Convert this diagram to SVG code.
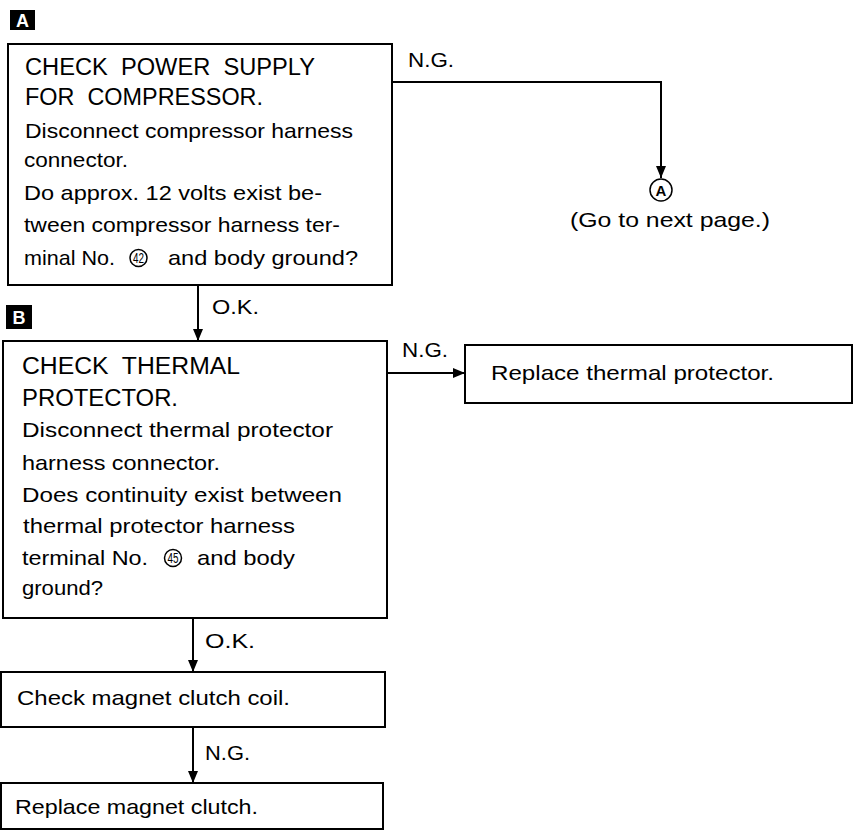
<svg xmlns="http://www.w3.org/2000/svg" width="858" height="831" viewBox="0 0 858 831">
<style>
  .box { fill: #fff; stroke: #000; stroke-width: 2; }
  .t { font-family: "Liberation Sans", Arial, sans-serif; font-size: 21px; fill: #000; }
  .h { font-family: "Liberation Sans", Arial, sans-serif; font-size: 23px; fill: #000; white-space: pre; }
  .lbl { font-family: "Liberation Sans", Arial, sans-serif; font-size: 18px; font-weight: bold; fill: #fff; }
  .num { font-family: "Liberation Sans", Arial, sans-serif; font-size: 14px; fill: #000; }
  .ring { fill: none; stroke: #000; stroke-width: 1.5; }
  .line { fill: none; stroke: #000; stroke-width: 2; }
</style>
<defs>
  <marker id="arr" viewBox="0 0 12 10" refX="12" refY="5" markerWidth="12" markerHeight="10" markerUnits="userSpaceOnUse" orient="auto">
    <path d="M0,0 L12,5 L0,10 Z" fill="#000"/>
  </marker>
</defs>
<rect width="858" height="831" fill="#fff"/>

<g id="label-A">
  <rect x="10" y="10" width="25" height="20" fill="#000"/>
  <text class="lbl" x="22.5" y="27" text-anchor="middle">A</text>
</g>

<g id="node-power">
  <rect class="box" x="8" y="44" width="384" height="241"/>
  <text class="h" xml:space="preserve" x="25" y="75" textLength="290" lengthAdjust="spacingAndGlyphs">CHECK  POWER  SUPPLY</text>
  <text class="h" xml:space="preserve" x="25" y="105" textLength="238" lengthAdjust="spacingAndGlyphs">FOR  COMPRESSOR.</text>
  <text class="t" x="25" y="138" textLength="328" lengthAdjust="spacingAndGlyphs">Disconnect compressor harness</text>
  <text class="t" x="24" y="167" textLength="104" lengthAdjust="spacingAndGlyphs">connector.</text>
  <text class="t" x="24" y="200" textLength="298" lengthAdjust="spacingAndGlyphs">Do approx. 12 volts exist be-</text>
  <text class="t" x="24" y="232" textLength="316" lengthAdjust="spacingAndGlyphs">tween compressor harness ter-</text>
  <text class="t" x="24" y="265" textLength="91" lengthAdjust="spacingAndGlyphs">minal No.</text>
  <circle class="ring" cx="138.5" cy="258" r="8.5"/>
  <text class="num" x="133" y="263" textLength="11" lengthAdjust="spacingAndGlyphs">42</text>
  <text class="t" x="168" y="265" textLength="190" lengthAdjust="spacingAndGlyphs">and body ground?</text>
</g>

<g id="label-B">
  <rect x="6" y="305" width="26" height="24" fill="#000"/>
  <text class="lbl" x="19" y="324" text-anchor="middle">B</text>
</g>

<g id="node-thermal">
  <rect class="box" x="3" y="341" width="384" height="277"/>
  <text class="h" xml:space="preserve" x="22" y="374" textLength="218" lengthAdjust="spacingAndGlyphs">CHECK  THERMAL</text>
  <text class="h" x="22" y="406" textLength="156" lengthAdjust="spacingAndGlyphs">PROTECTOR.</text>
  <text class="t" x="22" y="437" textLength="311" lengthAdjust="spacingAndGlyphs">Disconnect thermal protector</text>
  <text class="t" x="22" y="470" textLength="198" lengthAdjust="spacingAndGlyphs">harness connector.</text>
  <text class="t" x="22" y="502" textLength="320" lengthAdjust="spacingAndGlyphs">Does continuity exist between</text>
  <text class="t" x="23" y="533" textLength="272" lengthAdjust="spacingAndGlyphs">thermal protector harness</text>
  <text class="t" x="22" y="565" textLength="126" lengthAdjust="spacingAndGlyphs">terminal No.</text>
  <circle class="ring" cx="173" cy="558" r="8.5"/>
  <text class="num" x="167.5" y="563" textLength="11" lengthAdjust="spacingAndGlyphs">45</text>
  <text class="t" x="197" y="565" textLength="98" lengthAdjust="spacingAndGlyphs">and body</text>
  <text class="t" x="22" y="595" textLength="81" lengthAdjust="spacingAndGlyphs">ground?</text>
</g>

<g id="node-replace-thermal">
  <rect class="box" x="465" y="345" width="387" height="58"/>
  <text class="t" x="491" y="380" textLength="283" lengthAdjust="spacingAndGlyphs">Replace thermal protector.</text>
</g>

<g id="node-next-page">
  <circle cx="661" cy="190" r="11" fill="#fff" stroke="#000" stroke-width="1.5"/>
  <text x="661" y="195.5" text-anchor="middle" font-family="Liberation Sans, Arial, sans-serif" font-size="15" font-weight="bold">A</text>
  <text class="t" x="570" y="227" textLength="200" lengthAdjust="spacingAndGlyphs">(Go to next page.)</text>
</g>

<g id="node-clutch-coil">
  <rect class="box" x="1" y="672" width="384" height="55"/>
  <text class="t" x="17" y="705" textLength="273" lengthAdjust="spacingAndGlyphs">Check magnet clutch coil.</text>
</g>

<g id="node-replace-clutch">
  <rect class="box" x="1" y="783" width="382" height="46"/>
  <text class="t" x="15" y="814" textLength="243" lengthAdjust="spacingAndGlyphs">Replace magnet clutch.</text>
</g>

<g id="connectors">
  <polyline class="line" points="392,82 661,82 661,178" marker-end="url(#arr)"/>
  <text class="t" x="408" y="67" textLength="46" lengthAdjust="spacingAndGlyphs">N.G.</text>
  <line class="line" x1="198" y1="285" x2="198" y2="341" marker-end="url(#arr)"/>
  <text class="t" x="212" y="314" textLength="47" lengthAdjust="spacingAndGlyphs">O.K.</text>
  <line class="line" x1="387" y1="373" x2="465" y2="373" marker-end="url(#arr)"/>
  <text class="t" x="402" y="357" textLength="46" lengthAdjust="spacingAndGlyphs">N.G.</text>
  <line class="line" x1="193" y1="618" x2="193" y2="672" marker-end="url(#arr)"/>
  <text class="t" x="205" y="648" textLength="50" lengthAdjust="spacingAndGlyphs">O.K.</text>
  <line class="line" x1="193" y1="727" x2="193" y2="783" marker-end="url(#arr)"/>
  <text class="t" x="205" y="760" textLength="45" lengthAdjust="spacingAndGlyphs">N.G.</text>
</g>
</svg>
